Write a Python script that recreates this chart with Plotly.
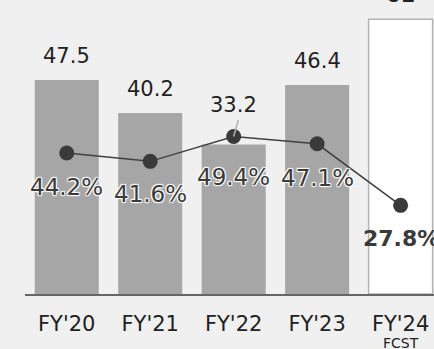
import plotly.graph_objects as go

# Fiscal years and values
categories = ["FY'20", "FY'21", "FY'22", "FY'23", "FY'24"]
bar_values = [47.5, 40.2, 33.2, 46.4, 61]
bar_labels = ["47.5", "40.2", "33.2", "46.4", "61"]
pct_values = [44.2, 41.6, 49.4, 47.1, 27.8]
pct_labels = ["44.2%", "41.6%", "49.4%", "47.1%", "27.8%"]

FONT = "DejaVu Sans"
BG = "#f0f0f0"

x_idx = list(range(len(categories)))
bar_fill = ["#a6a6a6"] * 4 + ["#ffffff"]
bar_line = ["#a6a6a6"] * 4 + ["#b4b4b4"]
bar_line_w = [0, 0, 0, 0, 1.5]

fig = go.Figure()
fig.add_trace(go.Bar(
    x=x_idx, y=bar_values, width=0.767,
    marker=dict(color=bar_fill, line=dict(color=bar_line, width=bar_line_w)),
    hoverinfo="skip", cliponaxis=False,
))
fig.add_trace(go.Scatter(
    x=x_idx, y=pct_values, yaxis="y2", mode="lines+markers",
    line=dict(color="#404040", width=1.5),
    marker=dict(size=15, color="#3a3a3a"),
    hoverinfo="skip", cliponaxis=False,
))

annotations = []
# value labels above bars (FY'22 raised to clear the ratio marker)
bar_shift = [24, 24, 39.5, 23.5, 24]
for i, (v, t) in enumerate(zip(bar_values, bar_labels)):
    bold = i == 4
    annotations.append(dict(
        x=i, y=v, xref="x", yref="y", text=f"<b>{t}</b>" if bold else t,
        showarrow=False, yanchor="middle", yshift=bar_shift[i],
        font=dict(family=FONT, size=21, color="#222222"),
    ))

# leader line from the FY'22 ratio marker to its bar label
annotations.append(dict(
    x=2, y=pct_values[2], xref="x", yref="y2", text="",
    showarrow=True, arrowhead=0, arrowwidth=1.5, arrowcolor="#b0b0b0",
    ax=5, ay=-18, standoff=0,
))

# ratio labels below the markers
halo = "1px 1px 1px #fff, -1px -1px 1px #fff, 1px -1px 1px #fff, -1px 1px 1px #fff"
pct_shift = [-34, -33, -41, -34, -33]
for i, (v, t) in enumerate(zip(pct_values, pct_labels)):
    bold = i == 4
    annotations.append(dict(
        x=i, y=v, xref="x", yref="y2", text=f"<b>{t}</b>" if bold else t,
        showarrow=False, yanchor="middle", yshift=pct_shift[i],
        font=dict(family=FONT, size=22 if bold else 23, color="#3a3a3a",
                  shadow="none" if bold else halo),
    ))

# forecast tag under the last year
annotations.append(dict(
    x=4, y=0, xref="x", yref="paper", text="FCST", showarrow=False,
    yanchor="middle", yshift=-49,
    font=dict(family=FONT, size=14, color="#222222"),
))

fig.update_layout(
    width=434, height=349,
    margin=dict(l=25, r=0, t=0, b=55),
    paper_bgcolor=BG, plot_bgcolor=BG,
    showlegend=False,
    annotations=annotations,
    xaxis=dict(
        range=[-0.5, 4.4], tickmode="array", tickvals=x_idx, ticktext=categories,
        showgrid=False, zeroline=False, showline=True, linecolor="#666666", linewidth=1.5,
        ticks="", tickfont=dict(family=FONT, size=21, color="#222222"),
        ticklabelstandoff=10,
    ),
    yaxis=dict(range=[0, 65.26], visible=False, showgrid=False, zeroline=False),
    yaxis2=dict(range=[0, 92.2], overlaying="y", visible=False, showgrid=False,
                zeroline=False),
)

fig.write_html("out.html")
